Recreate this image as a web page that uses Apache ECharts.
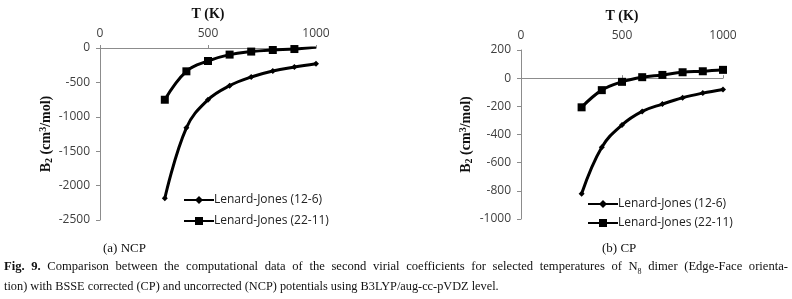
<!DOCTYPE html>
<html lang="en">
<head>
    <title>B2 vs T</title>
    <meta charset="utf-8">
    <script src="https://cdn.jsdelivr.net/npm/echarts@6/dist/echarts.min.js"></script>
    <style>
        body { margin: 0; background: #fff; }
        #chart { position: absolute; left: 0; top: 0; width: 792px; height: 299px; }
        .sub { position: absolute; top: 240px; font: 13px "Liberation Serif", serif; color: #111; }
        .cap { position: absolute; left: 4px; top: 259px; width: 784px; font: 12.3px "Liberation Serif", serif; color: #111; line-height: 15px; }
        .cap .l1 { text-align: justify; text-align-last: justify; font-size: 12.6px; }
    </style>
</head>
<body>
    <div id="chart"></div>
    <div class="sub" style="left:103px">(a) NCP</div>
    <div class="sub" style="left:602px">(b) CP</div>
    <div class="cap">
        <div class="l1"><b>Fig. 9.</b> Comparison between the computational data of the second virial coefficients for selected temperatures of N<sub style="font-size:8px">8</sub> dimer (Edge-Face orienta-</div>
        <div>tion) with BSSE corrected (CP) and uncorrected (NCP) potentials using B3LYP/aug-cc-pVDZ level.</div>
    </div>
    <script type="text/javascript">
        // temperatures (K)
        var temps = [300, 400, 500, 600, 700, 800, 900, 1000];
        var seriesNames = ["Lenard-Jones (12-6)", "Lenard-Jones (22-11)"];
        // (a) NCP
        var ncp_lj126 = [-2185, -1160, -752, -548, -422, -335, -277, -228];
        var ncp_lj2211 = [-752, -339, -189, -96, -52, -29, -15, 15];
        // (b) CP
        var cp_lj126 = [-820, -490, -332, -236, -184, -139, -106, -80];
        var cp_lj2211 = [-207, -85, -26, 7, 23, 42, 49, 59];

        function pairs(vals) {
            return temps.map(function (t, i) { return [t, vals[i]]; });
        }

        var tickFont = { fontFamily: "Open Sans", fontSize: 12, color: "#404040", formatter: function (v) { return String(v); } };
        var nameFont = {
            fontFamily: "Liberation Serif", fontSize: 14, fontWeight: "bold", color: "#111",
            rich: {
                sub: { fontFamily: "Liberation Serif", fontSize: 10, fontWeight: "bold", verticalAlign: "bottom", padding: [6, 0, 0, 0] },
                sup: { fontFamily: "Liberation Serif", fontSize: 10, fontWeight: "bold", verticalAlign: "top", padding: [0, 0, 6, 0] }
            }
        };

        function xAxisOf(idx) {
            return {
                gridIndex: idx, type: "value", position: "top",
                min: 0, max: 1000, interval: 500,
                name: "T (K)", nameLocation: "middle", nameGap: 27,
                nameTextStyle: nameFont,
                axisLine: { lineStyle: { color: "#8c8c8c", width: 1 } },
                axisTick: { show: true, inside: false, length: 3, lineStyle: { color: "#8c8c8c" } },
                axisLabel: Object.assign({ margin: 8 }, tickFont),
                splitLine: { show: false }
            };
        }
        function yAxisOf(idx, min, max, step, gap) {
            return {
                gridIndex: idx, type: "value",
                min: min, max: max, interval: step,
                name: "B{sub|2} (cm{sup|3}/mol)", nameLocation: "middle", nameRotate: 90, nameGap: gap,
                nameTextStyle: nameFont,
                axisLine: { show: true, lineStyle: { color: "#8c8c8c", width: 1 } },
                axisTick: { show: true, length: 4, lineStyle: { color: "#8c8c8c" } },
                axisLabel: Object.assign({ margin: 10 }, tickFont),
                splitLine: { show: false }
            };
        }
        function lineOf(name, vals, idx) {
            var isSq = name === seriesNames[1];
            return {
                type: "line", name: name, xAxisIndex: idx, yAxisIndex: idx,
                data: pairs(vals), smooth: 0.4,
                symbol: isSq ? "rect" : "diamond",
                symbolSize: isSq ? 8 : 6,
                itemStyle: { color: "#000" },
                lineStyle: { color: "#000", width: 3 }
            };
        }
        function legendOf(left, top, gap) {
            return {
                orient: "vertical", left: left, top: top,
                itemWidth: 30, itemHeight: 10, itemGap: gap,
                textStyle: { fontFamily: "Open Sans", fontSize: 12, color: "#222", padding: [0, 0, 0, -5] },
                data: seriesNames
            };
        }

        var option = {
            animation: false,
            backgroundColor: "#fff",
            grid: [
                { left: 100, top: 48, width: 216, height: 172, outerBoundsMode: "none", containLabel: false },
                { left: 521, top: 50, width: 202, height: 169, outerBoundsMode: "none", containLabel: false }
            ],
            xAxis: [xAxisOf(0), xAxisOf(1)],
            yAxis: [yAxisOf(0, -2500, 0, 500, 44), yAxisOf(1, -1000, 200, 200, 47)],
            legend: [legendOf(178, 189, 9), legendOf(582, 193, 7)],
            series: [
                lineOf(seriesNames[0], ncp_lj126, 0),
                lineOf(seriesNames[1], ncp_lj2211, 0),
                lineOf(seriesNames[0], cp_lj126, 1),
                lineOf(seriesNames[1], cp_lj2211, 1)
            ]
        };

        var mychart = echarts.init(document.getElementById("chart"));
        mychart.setOption(option);
    </script>
</body>
</html>
